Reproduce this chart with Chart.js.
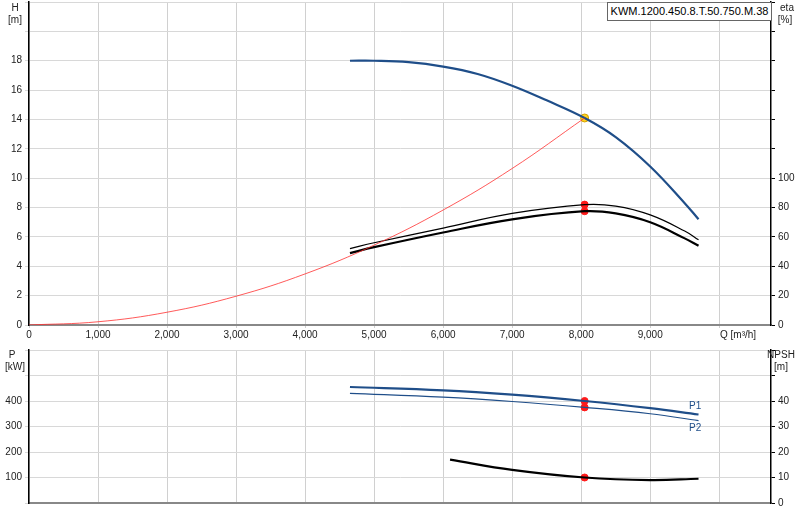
<!DOCTYPE html>
<html><head><meta charset="utf-8">
<script src="https://cdn.jsdelivr.net/npm/chart.js@4"></script>
<style>
body{margin:0;background:#fff;font-family:"Liberation Sans",Arial,sans-serif;overflow:hidden}
#top{position:absolute;left:0;top:-7px;width:800px;height:347px}
#bot{position:absolute;left:0;top:340px;width:800px;height:180px}
#box{position:absolute;left:607px;top:2px;width:163px;height:17px;border:1px solid #666;background:#fff;font-size:11px;line-height:17px;text-align:center}
</style></head><body>
<div id="top"><canvas id="c1"></canvas></div>
<div id="bot"><canvas id="c2"></canvas></div>
<div id="box">KWM.1200.450.8.T.50.750.M.38</div>
<script>
const qTicks=[0,1000,2000,3000,4000,5000,6000,7000,8000,9000,10000];
const headQ=[4650,5000,5500,6000,6500,7000,7500,8050,8500,9000,9500,9700];
const headH=[18.0,18.0,17.9,17.6,17.1,16.3,15.3,14.1,12.8,10.8,8.3,7.2];
const sysQ=[0,1000,2000,3000,4000,5000,6000,7000,8050];
const sysH=[0,0.22,0.87,1.96,3.48,5.44,7.83,10.66,14.1];
const etaQ=[4650,5000,6000,7000,8050,8500,9000,9500,9700];
const eta1=[52,56,66,76,82,81,75,64,58];
const eta2=[49,53,63,72,77.5,76,70,59,54];
const pQ=[4650,6000,7000,8050,9000,9700];
const p1=[455,442,425,400,372,347];
const p2=[430,415,398,375,350,323];
const npshQ=[6100,7000,8050,9000,9700];
const npsh=[17,13,10,9,9.5];
const opQ=8050, opH=14.1, opEta=[82,77.5], opP=[400,375], opNpsh=10;

const F={family:"Liberation Sans, Arial",size:10};
const xy=(xs,ys)=>xs.map((x,i)=>({x,y:ys[i]}));
const line=(d,c,w,axis)=>({type:'line',data:d,borderColor:c,borderWidth:w,pointRadius:0,tension:0.4,fill:false,yAxisID:axis});
const dot=(d,c,axis)=>({type:'scatter',data:d,backgroundColor:c,borderColor:c,pointRadius:3.5,yAxisID:axis});
const fixW=w=>(s)=>{s.width=w;};
const setQ=s=>{s.ticks=qTicks.map(v=>({value:v}));};
const txt={id:'txt',afterDraw(ch){const t=ch.options.plugins.txt.items;const g=ch.ctx;g.save();g.font='10px Liberation Sans, Arial';for(const [s,x,y,a,c] of t){g.textAlign=a;g.fillStyle=c||'#222';g.fillText(s,x,y);}g.restore();}};
Chart.defaults.animation=false;Chart.defaults.maintainAspectRatio=false;

new Chart(document.getElementById('c1'),{data:{datasets:[
 line(xy(sysQ,sysH),'#ff3030',0.8,'y'),
 line(xy(etaQ,eta1),'#000',1.2,'y2'),
 line(xy(etaQ,eta2),'#000',2.2,'y2'),
 line(xy(headQ,headH),'#1f4e89',2.2,'y'),
 dot([{x:opQ,y:opEta[0]},{x:opQ,y:opEta[1]}],'#ff1a1a','y2'),
 {type:'scatter',data:[{x:opQ,y:opH}],backgroundColor:'#ffd21f',borderColor:'#d4a000',borderWidth:1,pointRadius:4,yAxisID:'y'}
]},options:{responsive:true,layout:{padding:0},
 plugins:{legend:{display:false},tooltip:{enabled:false},txt:{items:[['H',15,18,'center'],['[m]',15,30,'center'],['eta',787,18,'center'],['[%]',785,30,'center'],['Q [m³/h]',720,345,'left']]}},
 scales:{x:{type:'linear',min:0,max:10750,afterBuildTicks:setQ,afterFit:s=>{s.height=15},ticks:{font:F,color:'#222',maxRotation:0,padding:1,callback:v=>v>=10000?'':v.toLocaleString('en-US')},grid:{color:'#d0d0d0',drawTicks:true,tickLength:3},border:{color:'#888',width:2}},
 y:{position:'left',min:0,max:22,afterFit:fixW(29),ticks:{stepSize:2,font:F,color:'#222',padding:3,callback:v=>v<=18?v:''},grid:{color:'#d8d8d8',tickLength:4},border:{color:'#000',width:1.5}},
 y2:{position:'right',min:0,max:220,afterFit:fixW(29),ticks:{stepSize:20,font:F,color:'#222',padding:3,callback:v=>v<=100?v:''},grid:{drawOnChartArea:false,tickLength:4,color:'#000'},border:{color:'#000',width:1.5}}}},
 plugins:[txt]});

new Chart(document.getElementById('c2'),{data:{datasets:[
 line(xy(pQ,p1),'#1f4e89',2.2,'y'),
 line(xy(pQ,p2),'#1f4e89',1.2,'y'),
 line(xy(npshQ,npsh),'#000',2.2,'y2'),
 dot([{x:opQ,y:opP[0]},{x:opQ,y:opP[1]}],'#ff1a1a','y'),
 dot([{x:opQ,y:opNpsh}],'#ff1a1a','y2')
]},options:{responsive:true,layout:{padding:{top:10,bottom:17,left:0,right:0}},
 plugins:{legend:{display:false},tooltip:{enabled:false},txt:{items:[['P',12,18,'center'],['[kW]',15,30,'center'],['NPSH',781,18,'center'],['[m]',781,30,'center'],['P1',689,69,'left','#1f4e89'],['P2',689,91,'left','#1f4e89']]}},
 scales:{x:{type:'linear',min:0,max:10750,afterBuildTicks:setQ,afterFit:s=>{s.height=0},ticks:{display:false},grid:{color:'#d0d0d0',drawTicks:false},border:{color:'#888',width:2}},
 y:{position:'left',min:0,max:600,afterFit:fixW(29),ticks:{stepSize:100,font:F,color:'#222',padding:3,callback:v=>(v>0&&v<=400)?v:''},grid:{color:'#d8d8d8',tickLength:4},border:{color:'#000',width:1.5}},
 y2:{position:'right',min:0,max:60,afterFit:fixW(29),ticks:{stepSize:10,font:F,color:'#222',padding:3,callback:v=>v<=40?v:''},grid:{drawOnChartArea:false,tickLength:4,color:'#000'},border:{color:'#000',width:1.5}}}},
 plugins:[txt]});
</script></body></html>
